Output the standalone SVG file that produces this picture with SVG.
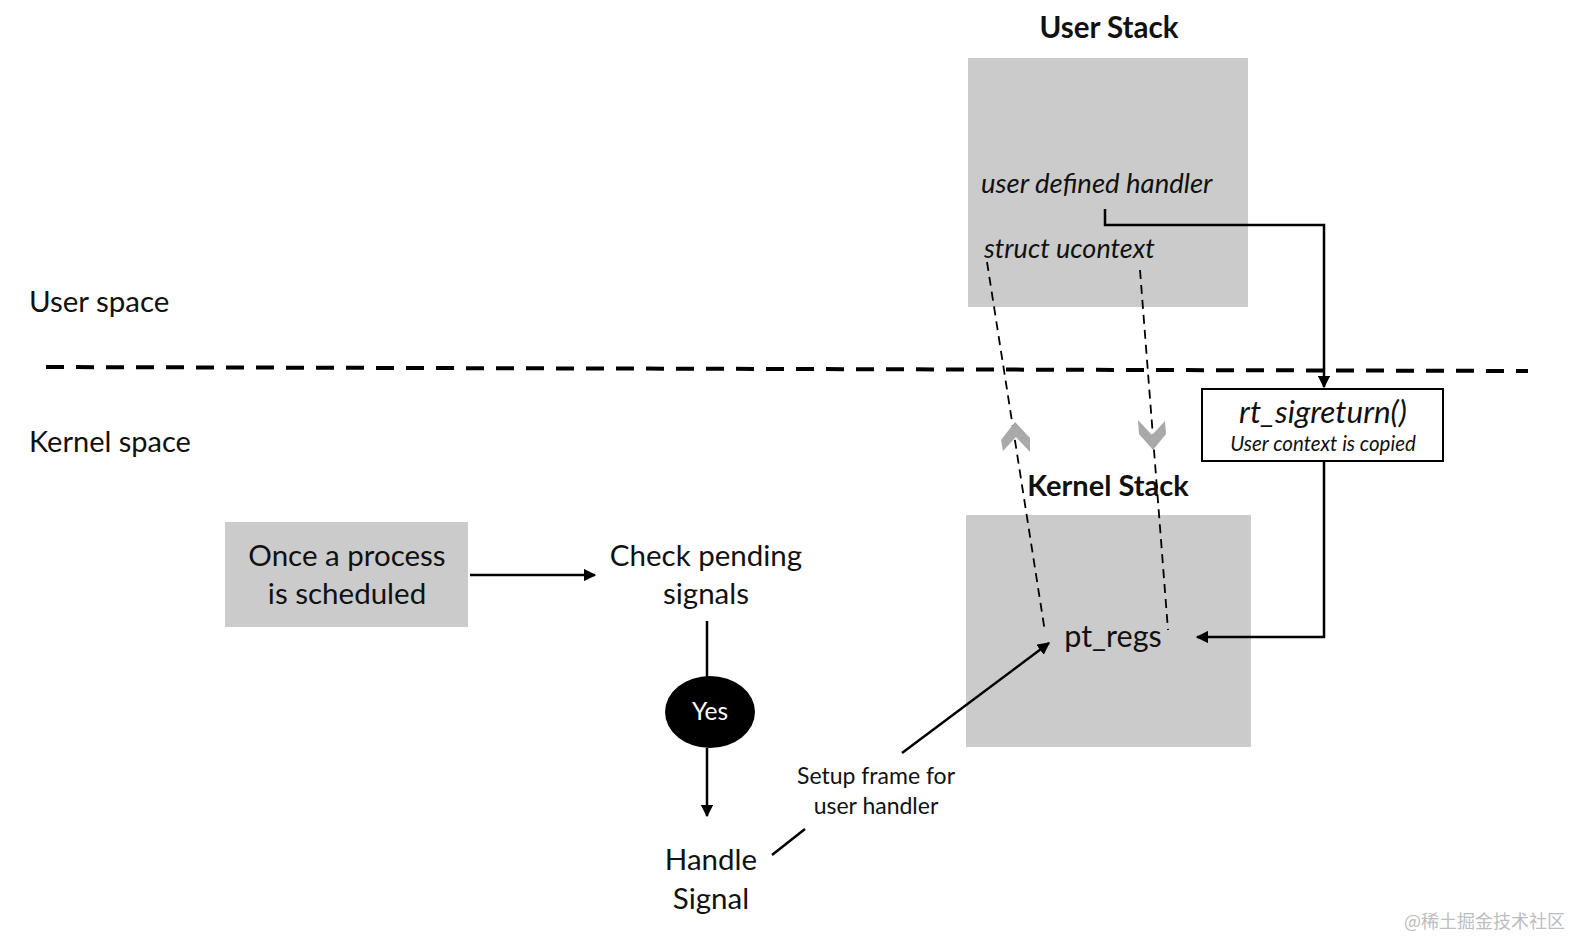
<svg xmlns="http://www.w3.org/2000/svg" width="1586" height="950" viewBox="0 0 1586 950">
<defs>
<style>
.t{font-family:Lato,"Open Sans","Liberation Sans",sans-serif;fill:#111}
.b{font-weight:bold}
.i{font-style:italic}
.stack{fill:#cbcbcb}
.ln{stroke:#000;stroke-width:2.5;fill:none}
.dsh{stroke:#000;stroke-width:1.8;fill:none;stroke-dasharray:9 6}
.chev{fill:#a9a9a9}
</style>
<marker id="ah" viewBox="0 0 10 10" refX="9" refY="5" markerWidth="5" markerHeight="5" orient="auto-start-reverse">
<path d="M0,0 L10,5 L0,10 z" fill="#000"/>
</marker>
</defs>
<rect width="1586" height="950" fill="#fff"/>

<g id="separator">
<line x1="46" y1="367" x2="1528" y2="371" stroke="#000" stroke-width="4" stroke-dasharray="18 12"/>
<text class="t" x="29" y="312" font-size="29.5">User space</text>
<text class="t" x="29" y="452" font-size="29">Kernel space</text>
</g>

<g id="user-stack">
<text class="t b" x="1109" y="38" font-size="29.5" text-anchor="middle">User Stack</text>
<rect class="stack" x="968" y="58" width="280" height="249"/>
<text class="t i" x="981" y="193" font-size="27.5">user defined handler</text>
<text class="t i" x="984" y="258" font-size="27">struct ucontext</text>
</g>

<g id="kernel-stack">
<text class="t b" x="1108" y="496" font-size="29" text-anchor="middle">Kernel Stack</text>
<rect class="stack" x="966" y="515" width="285" height="232"/>
<text class="t" x="1113" y="647" font-size="30.5" text-anchor="middle">pt_regs</text>
</g>

<g id="rt-sigreturn">
<rect x="1202" y="389" width="241" height="72" fill="#fff" stroke="#000" stroke-width="2"/>
<text class="t i" x="1323" y="423" font-size="31.5" text-anchor="middle">rt_sigreturn()</text>
<text class="t i" x="1323" y="451" font-size="20.5" text-anchor="middle">User context is copied</text>
</g>

<g id="process-scheduled">
<rect class="stack" x="225" y="522" width="243" height="105"/>
<text class="t" x="347" y="566" font-size="29.5" text-anchor="middle">Once a process</text>
<text class="t" x="347" y="604" font-size="29.5" text-anchor="middle">is scheduled</text>
</g>

<g id="check-pending">
<text class="t" x="706" y="566" font-size="29.5" text-anchor="middle">Check pending</text>
<text class="t" x="706" y="604" font-size="29.5" text-anchor="middle">signals</text>
</g>

<g id="yes">
<ellipse cx="710" cy="712" rx="45" ry="36" fill="#000"/>
<text x="710" y="720" font-size="24.5" text-anchor="middle" fill="#fff" font-family="Lato,'Open Sans','Liberation Sans',sans-serif">Yes</text>
</g>

<g id="handle-signal">
<text class="t" x="711" y="870" font-size="29.5" text-anchor="middle">Handle</text>
<text class="t" x="711" y="909" font-size="29.5" text-anchor="middle">Signal</text>
</g>

<g id="setup-frame-label">
<text class="t" x="876" y="784" font-size="23" text-anchor="middle">Setup frame for</text>
<text class="t" x="876" y="814" font-size="23" text-anchor="middle">user handler</text>
</g>

<g id="connectors">
<path class="ln" d="M1105,209 V225 H1324 V387" marker-end="url(#ah)"/>
<path class="ln" d="M1324,461 V637 H1197" marker-end="url(#ah)"/>
<line class="ln" x1="470" y1="575" x2="595" y2="575" marker-end="url(#ah)"/>
<line class="ln" x1="707" y1="621" x2="707" y2="677"/>
<line class="ln" x1="707" y1="748" x2="707" y2="816" marker-end="url(#ah)"/>
<line class="ln" x1="772" y1="855" x2="805" y2="829"/>
<line class="ln" x1="902" y1="753" x2="1049" y2="643" marker-end="url(#ah)"/>
<line class="dsh" x1="987" y1="262" x2="1045" y2="632"/>
<line class="dsh" x1="1140" y1="270" x2="1168" y2="630"/>
<path class="chev" d="M1001,440 L1015,422 L1030,438 L1030,452 L1016,437 L1003,451 Z"/>
<path class="chev" d="M1138,420 L1152,435 L1165,421 L1166,434 L1153,450 L1139,434 Z"/>
</g>

<text x="1404" y="928" font-size="18" fill="#bdbdbd" font-family="'Noto Sans CJK SC',sans-serif">@稀土掘金技术社区</text>
</svg>
